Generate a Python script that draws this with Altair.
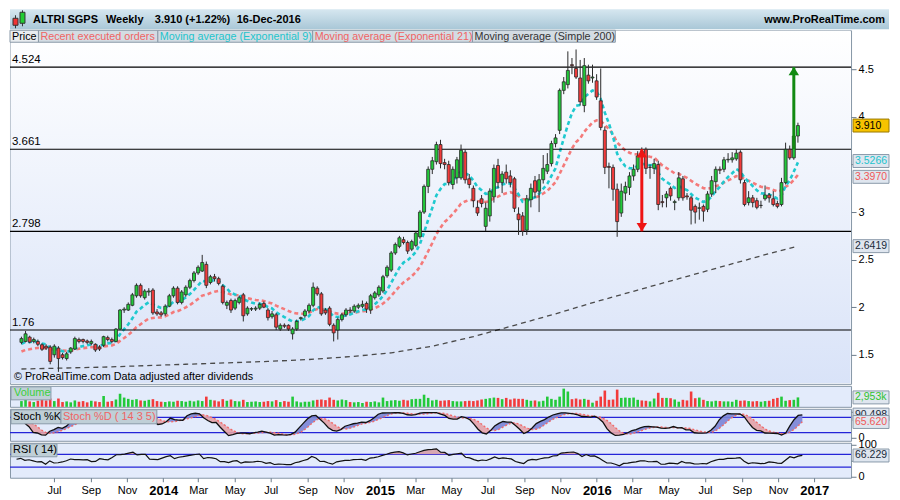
import altair as alt
import pandas as pd

FONT = "Liberation Sans"
W = 842
TAG_W = 36
TOTAL_W = W + 38
H_HEAD = 21
H_MAIN = 354
H_VOL = 21
H_STO = 32
H_RSI = 35

# ---------------- data ----------------
start_date = "2013-04-29"   # Monday of the first weekly candle

opens = [
    1.63, 1.64, 1.685, 1.64, 1.64, 1.605, 1.59, 1.58, 1.50, 1.57,
    1.50, 1.46, 1.53, 1.56, 1.66, 1.66, 1.645, 1.62, 1.61, 1.58,
    1.60, 1.68, 1.66, 1.64, 1.77, 1.97, 1.97, 2.02, 2.12, 2.23,
    2.10, 2.16, 2.18, 1.95, 1.94, 1.93, 2.01, 2.12, 2.20, 2.05,
    2.13, 2.21, 2.28, 2.36, 2.38, 2.45, 2.26, 2.32, 2.30, 2.22,
    2.02, 2.07, 1.99, 2.05, 2.13, 1.93, 1.98, 1.98, 1.99, 2.04,
    1.97, 1.90, 1.92, 1.77, 1.81, 1.81, 1.72, 1.77, 1.88, 1.91,
    1.96, 2.02, 2.20, 2.14, 1.97, 1.99, 1.81, 1.76, 1.87, 1.92,
    1.97, 1.96, 2.00, 2.01, 2.04, 1.97, 2.10, 2.13, 2.17, 2.33,
    2.39, 2.57, 2.64, 2.71, 2.68, 2.61, 2.65, 2.74, 3.00, 3.27,
    3.45, 3.53, 3.71, 3.52, 3.50, 3.29, 3.36, 3.36, 3.63, 3.35,
    3.25, 3.05, 3.14, 2.85, 2.96, 3.16, 3.49, 3.31, 3.42, 3.38,
    3.35, 2.98, 2.96, 2.81, 3.13, 3.33, 3.22, 3.34, 3.43, 3.51,
    3.72, 3.86, 4.28, 4.34, 4.55, 4.51, 4.41, 4.12, 4.44, 4.41,
    4.38, 4.17, 3.86, 3.48, 3.47, 3.24, 2.99, 3.20, 3.26, 3.38,
    3.45, 3.64, 3.66, 3.47, 3.46, 3.50, 3.11, 3.15, 3.25, 3.10,
    3.15, 3.35, 3.17, 3.15, 3.06, 3.04, 3.06, 3.03, 3.19, 3.32,
    3.45, 3.45, 3.55, 3.55, 3.56, 3.63, 3.31, 3.10, 3.15, 3.12,
    3.07, 3.14, 3.18, 3.14, 3.09, 3.08, 3.31, 3.66, 3.57, 3.80,
]
highs = [
    1.69, 1.75, 1.70, 1.68, 1.66, 1.62, 1.61, 1.60, 1.61, 1.59,
    1.52, 1.53, 1.58, 1.69, 1.68, 1.67, 1.66, 1.66, 1.62, 1.60,
    1.70, 1.70, 1.68, 1.78, 1.98, 2.00, 2.05, 2.15, 2.25, 2.25,
    2.19, 2.20, 2.20, 1.98, 1.96, 2.03, 2.14, 2.22, 2.22, 2.18,
    2.23, 2.30, 2.38, 2.44, 2.55, 2.48, 2.34, 2.35, 2.32, 2.24,
    2.07, 2.09, 2.09, 2.12, 2.15, 2.01, 2.00, 2.01, 2.05, 2.06,
    1.99, 1.96, 1.94, 1.83, 1.83, 1.82, 1.79, 1.87, 1.90, 1.98,
    2.04, 2.26, 2.22, 2.16, 1.99, 2.01, 1.83, 1.89, 1.94, 1.99,
    2.00, 2.03, 2.04, 2.07, 2.06, 2.14, 2.17, 2.23, 2.34, 2.44,
    2.59, 2.68, 2.75, 2.74, 2.70, 2.71, 2.80, 3.02, 3.29, 3.48,
    3.58, 3.74, 3.76, 3.56, 3.54, 3.48, 3.58, 3.71, 3.66, 3.40,
    3.28, 3.12, 3.18, 3.10, 3.25, 3.50, 3.56, 3.43, 3.50, 3.44,
    3.37, 3.05, 3.00, 3.18, 3.30, 3.38, 3.40, 3.60, 3.62, 3.75,
    3.82, 4.30, 4.42, 4.69, 4.62, 4.71, 4.60, 4.62, 4.55, 4.55,
    4.45, 4.51, 3.90, 3.52, 3.50, 3.30, 3.30, 3.32, 3.42, 3.50,
    3.64, 3.68, 3.68, 3.50, 3.56, 3.54, 3.18, 3.22, 3.27, 3.13,
    3.42, 3.38, 3.20, 3.17, 3.08, 3.10, 3.08, 3.22, 3.38, 3.48,
    3.48, 3.58, 3.62, 3.63, 3.66, 3.65, 3.34, 3.22, 3.18, 3.15,
    3.12, 3.28, 3.20, 3.22, 3.12, 3.36, 3.73, 3.70, 3.85, 3.94,
]
lows = [
    1.61, 1.63, 1.62, 1.62, 1.59, 1.54, 1.55, 1.40, 1.47, 1.32,
    1.45, 1.44, 1.51, 1.55, 1.62, 1.62, 1.61, 1.60, 1.53, 1.54,
    1.58, 1.64, 1.62, 1.63, 1.76, 1.94, 1.96, 2.01, 2.10, 2.10,
    2.08, 2.12, 1.92, 1.91, 1.90, 1.91, 2.00, 2.10, 2.03, 2.03,
    2.11, 2.19, 2.26, 2.34, 2.37, 2.20, 2.24, 2.27, 2.23, 2.03,
    1.98, 1.94, 1.97, 2.03, 1.85, 1.91, 1.96, 1.96, 1.97, 1.99,
    1.86, 1.88, 1.76, 1.75, 1.78, 1.75, 1.66, 1.75, 1.86, 1.89,
    1.94, 2.00, 2.12, 1.91, 1.92, 1.80, 1.64, 1.66, 1.85, 1.90,
    1.94, 1.94, 1.98, 1.99, 1.94, 1.93, 2.08, 2.11, 2.15, 2.31,
    2.37, 2.55, 2.62, 2.66, 2.56, 2.59, 2.63, 2.72, 2.98, 3.20,
    3.40, 3.50, 3.46, 3.45, 3.28, 3.24, 3.30, 3.34, 3.30, 3.25,
    3.05, 2.96, 3.05, 2.80, 2.90, 3.10, 3.25, 3.20, 3.30, 3.26,
    3.00, 2.76, 2.75, 2.76, 3.05, 3.15, 3.00, 3.30, 3.40, 3.48,
    3.68, 3.82, 4.24, 4.30, 4.45, 4.40, 4.12, 4.05, 4.35, 4.36,
    4.18, 3.86, 3.40, 3.25, 3.12, 2.74, 2.95, 3.12, 3.18, 3.33,
    3.42, 3.55, 3.40, 3.35, 3.40, 3.02, 3.05, 3.05, 3.12, 3.02,
    3.12, 3.12, 3.13, 2.87, 2.88, 2.92, 2.90, 3.00, 3.16, 3.20,
    3.40, 3.42, 3.52, 3.52, 3.54, 3.30, 3.06, 3.07, 3.05, 3.03,
    3.04, 3.12, 3.10, 3.06, 3.04, 3.06, 3.29, 3.55, 3.55, 3.73,
]
closes = [
    1.67, 1.72, 1.633, 1.66, 1.61, 1.558, 1.57, 1.43, 1.59, 1.46,
    1.47, 1.51, 1.57, 1.67, 1.64, 1.64, 1.63, 1.64, 1.55, 1.56,
    1.69, 1.66, 1.64, 1.77, 1.97, 1.98, 2.03, 2.13, 2.23, 2.12,
    2.17, 2.17, 1.94, 1.93, 1.92, 2.01, 2.12, 2.20, 2.05, 2.16,
    2.21, 2.28, 2.36, 2.42, 2.47, 2.23, 2.32, 2.30, 2.25, 2.05,
    2.05, 1.97, 2.07, 2.10, 1.91, 1.99, 1.985, 1.99, 2.03, 2.00,
    1.89, 1.93, 1.79, 1.81, 1.80, 1.77, 1.77, 1.85, 1.89, 1.96,
    2.02, 2.21, 2.14, 1.93, 1.94, 1.82, 1.73, 1.87, 1.92, 1.97,
    1.96, 2.01, 2.02, 2.03, 1.98, 2.12, 2.15, 2.21, 2.32, 2.42,
    2.57, 2.66, 2.73, 2.68, 2.59, 2.69, 2.78, 3.00, 3.27, 3.45,
    3.54, 3.71, 3.51, 3.50, 3.31, 3.45, 3.55, 3.65, 3.34, 3.29,
    3.12, 2.99, 3.09, 3.04, 3.22, 3.46, 3.31, 3.40, 3.35, 3.31,
    3.04, 2.92, 2.80, 3.14, 3.25, 3.21, 3.34, 3.46, 3.50, 3.72,
    3.78, 4.28, 4.37, 4.49, 4.54, 4.42, 4.16, 4.54, 4.38, 4.42,
    4.21, 3.89, 3.47, 3.47, 3.24, 2.90, 3.22, 3.27, 3.38, 3.45,
    3.59, 3.60, 3.46, 3.47, 3.51, 3.08, 3.10, 3.19, 3.17, 3.11,
    3.36, 3.15, 3.16, 3.02, 3.00, 3.045, 3.01, 3.19, 3.33, 3.45,
    3.44, 3.55, 3.555, 3.57, 3.62, 3.34, 3.08, 3.15, 3.10, 3.05,
    3.07, 3.18, 3.15, 3.08, 3.06, 3.31, 3.66, 3.57, 3.80, 3.91,
]
volumes_k = [
    1800, 2100, 1700, 1500, 1900, 2200, 2000, 2600, 1800, 2600,
    1500, 1700, 1400, 2000, 1600, 1800, 1400, 1900, 1700, 1500,
    3400, 1600, 1800, 2300, 4100, 2900, 2500, 2200, 2400, 2000,
    1900, 2200, 2400, 1800, 1600, 1500, 1700, 1600, 1900, 1800,
    1600, 1900, 1700, 2000, 1800, 3200, 2200, 2000, 1700, 2400,
    1900, 2300, 1800, 1700, 2200, 1500, 1600, 1700, 1500, 1600,
    1800, 1700, 2100, 1500, 1800, 1600, 3200, 1700, 1400, 1600,
    1600, 2000, 2200, 2300, 2100, 2900, 2200, 2000, 2300, 2100,
    1500, 1400, 1500, 1200, 1600, 1500, 1700, 1400, 2900, 1800,
    2000, 2100, 1900, 2200, 2000, 2400, 2500, 2500, 3800, 2800,
    2000, 2200, 1900, 2000, 2100, 1800, 1700, 1700, 1800, 1900,
    1800, 2000, 2300, 2500, 2700, 2900, 2800, 2400, 2800, 2300,
    2600, 2500, 2500, 2200, 1900, 2000, 1700, 1900, 3200, 2500,
    2200, 3200, 5700, 4800, 2400, 2600, 2300, 2500, 2200, 1300,
    1900, 3200, 5100, 2200, 2300, 5400, 2800, 2900, 2800, 2900,
    2200, 2000, 1900, 1700, 2600, 4400, 2800, 2800, 2700, 2300,
    1600, 2200, 2000, 4800, 2700, 2900, 2200, 1800, 1700, 1900,
    1800, 1700, 1700, 1600, 2200, 1900, 2000, 1800, 1700, 1800,
    1600, 1800, 1900, 2500, 2800, 3200, 1900, 2100, 2200, 2953,
]
# simple 200-week average, read at selected weeks
sma_weeks = [0, 20, 40, 60, 70, 80, 90, 100, 110, 120, 130, 140, 150, 160, 170, 180, 189]
sma_values = [1.35, 1.37, 1.40, 1.43, 1.45, 1.48, 1.52, 1.59, 1.69, 1.81, 1.93, 2.06, 2.18, 2.30, 2.42, 2.54, 2.6419]
ema9_seed, ema21_seed = 1.60, 1.52
rsi_seed_gain, rsi_seed_loss = 0.03, 0.025

levels = [4.524, 3.661, 2.798, 1.76]
level_labels = ["4.524", "3.661", "2.798", "1.76"]

arrow_weeks = [151, 188]
arrow_from = [3.661, 3.661]
arrow_to = [2.798, 4.524]
arrow_colors = ["#ee1414", "#128a12"]

price_tags = [3.910, 3.5266, 3.3970, 2.6419]
price_tag_text = ["3.910", "3.5266", "3.3970", "2.6419"]
price_tag_fg = ["#000000", "#1cc3cc", "#f05858", "#1a2a3a"]
price_tag_bg = ["#f7c300", "#dfe6ef", "#dfe6ef", "#dfe6ef"]
price_tag_bd = ["#9a7800", "#8a9aaa", "#8a9aaa", "#8a9aaa"]
price_tag_shift = [0, -1, 2.5, 0]

vol_tag = [2953]
vol_tag_text = ["2,953k"]
sto_tags = [90.498, 65.620]
sto_tag_text = ["90.498", "65.620"]
sto_tag_fg = ["#1a2a3a", "#f05858"]
rsi_tags = [66.229]
rsi_tag_text = ["66.229"]

legend_items = ["Price", "Recent executed orders", "Moving average (Exponential 9)",
                "Moving average (Exponential 21)", "Moving average (Simple 200)"]
legend_colors = ["#000000", "#f06464", "#1ec4cc", "#f06464", "#333333"]
legend_edges = [0, 28.5, 148, 303, 463, 606]

header_texts = ["ALTRI SGPS", "Weekly", "3.910 (+1.22%)", "16-Dec-2016"]
header_x = [23, 96, 145, 227]

# ---------------- derived table ----------------
n = len(closes)
dates = pd.date_range(start_date, periods=n, freq="7D")
df = pd.DataFrame({"date": dates, "open": opens, "high": highs, "low": lows,
                   "close": closes, "volume": volumes_k})
df["dir"] = ["up" if c >= o else "down" for o, c in zip(opens, closes)]


def ema(vals, span, seed):
    a = 2.0 / (span + 1)
    e = seed
    out = []
    for v in vals:
        e = e + a * (v - e)
        out.append(e)
    return out


df["ema9"] = ema(closes, 9, ema9_seed)
df["ema21"] = ema(closes, 21, ema21_seed)

hh = df["high"].rolling(14, min_periods=1).max()
ll = df["low"].rolling(14, min_periods=1).min()
raw = 100 * (df["close"] - ll) / (hh - ll)
df["k"] = raw.rolling(3, min_periods=1).mean()
df["d"] = df["k"].rolling(5, min_periods=1).mean()
df["kdmax"] = df[["k", "d"]].max(axis=1)

ag, al = rsi_seed_gain, rsi_seed_loss
rsi = []
for i, c in enumerate(closes):
    if i > 0:
        ch = c - closes[i - 1]
        ag = (ag * 13 + max(ch, 0)) / 14
        al = (al * 13 + max(-ch, 0)) / 14
    rsi.append(100 - 100 / (1 + ag / al))
df["rsi"] = rsi
df["r70"] = 70.0
df["rmax"] = df["rsi"].clip(lower=70)

sma = pd.DataFrame({"date": dates[sma_weeks], "v": sma_values})
lev = pd.DataFrame({"v": levels, "t": level_labels})
arr = pd.DataFrame({"date": dates[arrow_weeks], "y0": arrow_from, "y1": arrow_to, "c": arrow_colors})
heads_up = pd.DataFrame({"date": [dates[151], dates[188]], "v": [3.661, 4.524], "c": arrow_colors})
heads_dn = pd.DataFrame({"date": [dates[151]], "v": [2.798], "c": [arrow_colors[0]]})

ONE = alt.Data(values=[{"u": 0}])
TAG_PATH = "M-1,-0.36H1V0.36H-1Z"
UP_PATH = "M0,-0.8L1,0.8L-1,0.8Z"
DN_PATH = "M0,0.8L1,-0.8L-1,-0.8Z"
BORDER = "#8797a7"

xscale = alt.Scale(domain=[alt.DateTime(year=2013, month=4, date=18),
                           alt.DateTime(year=2017, month=3, date=4)])
X = alt.X("date:T", scale=xscale, axis=None)


def vbox(x0, x1, y0, y1, fill, stroke="#8a9aa8"):
    return alt.Chart(ONE).mark_rect(fill=fill, stroke=stroke, strokeWidth=1).encode(
        x=alt.value(x0), x2=alt.value(x1), y=alt.value(y0), y2=alt.value(y1))


def vtext(x, y, text, color="#000000", size=11, weight="normal", align="left"):
    return alt.Chart(ONE).mark_text(text=text, color=color, fontSize=size, fontWeight=weight,
                                    align=align, baseline="middle", font=FONT).encode(
        x=alt.value(x), y=alt.value(y))


def tags(values, texts, fg, bg, bd, Yfn, shifts=None):
    if shifts is None:
        shifts = [0] * len(values)
    out = []
    for v, tx, f, b, s, sh in zip(values, texts, fg, bg, bd, shifts):
        t = pd.DataFrame({"v": [v], "label": [tx]})
        out.append(alt.Chart(t).mark_point(shape=TAG_PATH, size=TAG_W * TAG_W, filled=True,
                                           opacity=1, strokeWidth=1, fill=b, stroke=s,
                                           yOffset=sh).encode(
            x=alt.value(W + 2 + TAG_W / 2), y=Yfn("v")))
        out.append(alt.Chart(t).mark_text(align="left", baseline="middle", fontSize=10.5,
                                          font=FONT, color=f, dy=sh).encode(
            x=alt.value(W + 4), y=Yfn("v"), text="label:N"))
    return out


# ---------------- header ----------------
head_grad = alt.Gradient(gradient="linear",
                         stops=[alt.GradientStop(color="#d6e7f0", offset=0),
                                alt.GradientStop(color="#a9c7d7", offset=1)],
                         x1=0, x2=0, y1=0, y2=1)
head_layers = [
    alt.Chart(ONE).mark_rect(fill=head_grad).encode(
        x=alt.value(0), x2=alt.value(TOTAL_W), y=alt.value(0), y2=alt.value(H_HEAD - 1)),
    alt.Chart(ONE).mark_rule(color="#333333").encode(x=alt.value(5.5), y=alt.value(6), y2=alt.value(19)),
    vbox(3, 8, 9, 16, "#f03434", "#333333"),
    alt.Chart(ONE).mark_rule(color="#333333").encode(x=alt.value(12.5), y=alt.value(1), y2=alt.value(17)),
    vbox(10, 15, 3, 14, "#22cc33", "#333333"),
    vtext(TOTAL_W - 4, 10.5, "www.ProRealTime.com", size=11, weight="bold", align="right"),
]
for hx, ht in zip(header_x, header_texts):
    head_layers.append(vtext(hx, 10.5, ht, size=11, weight="bold"))
header = alt.layer(*head_layers).properties(
    width=TOTAL_W, height=H_HEAD, view=alt.ViewBackground(stroke="transparent"))

# ---------------- main price panel ----------------
yscale = alt.Scale(domain=[1.194, 4.912], nice=False, zero=False)
yaxis = alt.Axis(orient="right", values=[1.5, 2, 2.5, 3, 3.5, 4, 4.5], format="~g", title="",
                 labelExpr="datum.value == 3.5 ? '' : datum.label",
                 grid=False, domain=False, tickColor="#6a7a8a", tickSize=5, labelFontSize=11,
                 labelColor="#000000", labelFont=FONT, labelPadding=2)


def Y(field):
    return alt.Y(field, type="quantitative", scale=yscale, axis=yaxis)


main_grad = alt.Gradient(gradient="linear",
                         stops=[alt.GradientStop(color="#ffffff", offset=0),
                                alt.GradientStop(color="#d9e3f8", offset=1)],
                         x1=0, x2=0, y1=0, y2=1)
base = alt.Chart(df)
color_dir = alt.Scale(domain=["up", "down"], range=["#22c93a", "#f23b3b"])

main_layers = [
    alt.Chart(ONE).mark_rect(fill=main_grad).encode(
        x=alt.value(0.5), x2=alt.value(W - 0.5), y=alt.value(0.5), y2=alt.value(H_MAIN - 0.5)),
    alt.Chart(sma).mark_line(color="#4a4a4a", strokeWidth=1.3, strokeDash=[5, 4]).encode(x=X, y=Y("v")),
    base.mark_line(color="#f47a7a", strokeWidth=2.6, strokeDash=[4, 3]).encode(x=X, y=Y("ema21")),
    base.mark_line(color="#1fc9cf", strokeWidth=2.6, strokeDash=[4, 3]).encode(x=X, y=Y("ema9")),
    alt.Chart(lev).mark_rule(color="#000000", strokeWidth=1.2).encode(y=Y("v")),
    alt.Chart(lev).mark_text(align="left", baseline="middle", dy=-7, fontSize=11.5, font=FONT,
                             color="#000000").encode(x=alt.value(2), y=Y("v"), text="t:N"),
    base.mark_rule(color="#2a2a2a", strokeWidth=1).encode(x=X, y=Y("low"), y2="high"),
    base.mark_bar(size=3, stroke="#2a2a2a", strokeWidth=0.8).encode(
        x=X, y=Y("open"), y2="close", fill=alt.Fill("dir:N", scale=color_dir, legend=None)),
    alt.Chart(arr).mark_rule(strokeWidth=3).encode(
        x=X, y=Y("y0"), y2="y1", color=alt.Color("c:N", scale=None)),
    alt.Chart(heads_up).mark_point(shape=UP_PATH, size=110, filled=True, opacity=1, yOffset=4).encode(
        x=X, y=Y("v"), fill=alt.Fill("c:N", scale=None)),
    alt.Chart(heads_dn).mark_point(shape=DN_PATH, size=110, filled=True, opacity=1, yOffset=-4).encode(
        x=X, y=Y("v"), fill=alt.Fill("c:N", scale=None)),
]
for i, (item, col) in enumerate(zip(legend_items, legend_colors)):
    fill = "#e9edf0" if i == 0 else "#d3dce3"
    main_layers.append(vbox(legend_edges[i], legend_edges[i + 1], 0, 12, fill))
    main_layers.append(vtext(legend_edges[i] + 2, 6.5, item, color=col, size=10.8))
main_layers.append(vtext(4, H_MAIN - 7, "\u00a9 ProRealTime.com  Data adjusted after dividends", size=10.8))
main_layers += tags(price_tags, price_tag_text, price_tag_fg, price_tag_bg, price_tag_bd, Y,
                    price_tag_shift)

main = alt.layer(*main_layers).properties(
    width=W, height=H_MAIN, view=alt.ViewBackground(fill="#ffffff", stroke=BORDER))

# ---------------- volume panel ----------------
vscale = alt.Scale(domain=[0, 6573], nice=False, zero=True)


def YV(field):
    return alt.Y(field, type="quantitative", scale=vscale, axis=None)


vol_layers = [
    base.mark_bar(size=2.6).encode(x=X, y=YV("volume"),
                                   color=alt.Color("dir:N", scale=color_dir, legend=None)),
    vbox(1, 41, 1, 14, "#bfcfd7"),
    vtext(4, 7.5, "Volume", color="#3ccf3c", size=11),
] + tags(vol_tag, vol_tag_text, ["#2fc22f"], ["#dfe6ef"], ["#8a9aaa"], YV)
vol = alt.layer(*vol_layers).properties(
    width=W, height=H_VOL, view=alt.ViewBackground(fill="#e3ebfb", stroke=BORDER))

# ---------------- stochastic panel ----------------
sscale = alt.Scale(domain=[-11.4, 112.9], nice=False, zero=False)
saxis = alt.Axis(orient="right", values=[0, 100], title="", grid=False, domain=False,
                 labelExpr="datum.value == 100 ? '' : datum.label",
                 tickColor="#6a7a8a", tickSize=5, labelFontSize=11, labelColor="#000000",
                 labelPadding=2)


def YS(field):
    return alt.Y(field, type="quantitative", scale=sscale, axis=saxis)


sto_lines = pd.DataFrame({"v": [80, 20]})
sto_layers = [
    alt.Chart(sto_lines).mark_rule(color="#2424d8", strokeWidth=1.2).encode(y=YS("v")),
    base.mark_area(color="#7a84d6", opacity=0.9).encode(x=X, y=YS("d"), y2="kdmax"),
    base.mark_area(color="#e3a2a8", opacity=0.9).encode(x=X, y=YS("k"), y2="kdmax"),
    base.mark_line(color="#f06a6a", strokeWidth=1.4, strokeDash=[2, 2]).encode(x=X, y=YS("d")),
    base.mark_line(color="#111111", strokeWidth=1.3).encode(x=X, y=YS("k")),
    vbox(1, 51, 1, 15, "#bfcfd7"),
    vtext(3, 8, "Stoch %K", size=11),
    vbox(51, 147, 1, 15, "#bfcfd7"),
    vtext(53, 8, "Stoch %D ( 14 3 5)", color="#f06464", size=11),
] + tags(sto_tags, sto_tag_text, sto_tag_fg, ["#dfe6ef", "#dfe6ef"], ["#8a9aaa", "#8a9aaa"], YS,
         [0, 1])
sto = alt.layer(*sto_layers).properties(
    width=W, height=H_STO, view=alt.ViewBackground(fill="#e3ebfb", stroke=BORDER))

# ---------------- RSI panel ----------------
rscale = alt.Scale(domain=[-2.9, 105.7], nice=False, zero=False)
raxis = alt.Axis(orient="right", values=[0, 50, 100], title="", grid=False, domain=False,
                 labelExpr="datum.value == 50 ? '' : datum.label",
                 tickColor="#6a7a8a", tickSize=5, labelFontSize=11, labelColor="#000000",
                 labelPadding=2)


def YR(field):
    return alt.Y(field, type="quantitative", scale=rscale, axis=raxis)


tick_dates = [alt.DateTime(year=y, month=m, date=1) for (y, m) in
              [(2013, 7), (2013, 9), (2013, 11), (2014, 1), (2014, 3), (2014, 5), (2014, 7),
               (2014, 9), (2014, 11), (2015, 1), (2015, 3), (2015, 5), (2015, 7), (2015, 9),
               (2015, 11), (2016, 1), (2016, 3), (2016, 5), (2016, 7), (2016, 9), (2016, 11),
               (2017, 1)]]
xaxis = alt.Axis(values=tick_dates,
                 labelExpr="month(datum.value) == 0 ? timeFormat(datum.value, '%Y') : timeFormat(datum.value, '%b')",
                 labelFontWeight={"condition": {"test": "month(datum.value) == 0", "value": "bold"}, "value": "normal"},
                 labelFontSize={"condition": {"test": "month(datum.value) == 0", "value": 13}, "value": 11},
                 labelColor="#000000", labelFlush=False, labelOverlap=False, tickSize=4,
                 tickColor="#6a7a8a", domain=False, grid=False, title="", labelPadding=3)
XR = alt.X("date:T", scale=xscale, axis=xaxis)

rsi_lines = pd.DataFrame({"v": [70, 30]})
rsi_layers = [
    alt.Chart(rsi_lines).mark_rule(color="#2424d8", strokeWidth=1.2).encode(y=YR("v")),
    base.mark_area(color="#d6a0a8", opacity=0.9).encode(x=XR, y=YR("r70"), y2="rmax"),
    base.mark_line(color="#111111", strokeWidth=1.2).encode(x=XR, y=YR("rsi")),
    vbox(1, 47, 1, 14, "#bfcfd7"),
    vtext(3, 7.5, "RSI ( 14)", size=11),
] + tags(rsi_tags, rsi_tag_text, ["#1a2a3a"], ["#dfe6ef"], ["#8a9aaa"], YR)
rsi_chart = alt.layer(*rsi_layers).properties(
    width=W, height=H_RSI, view=alt.ViewBackground(fill="#e3ebfb", stroke=BORDER))

inner = alt.vconcat(main, vol, sto, rsi_chart, spacing=2, bounds="flush")
chart = alt.vconcat(header, inner, spacing=0, bounds="flush").properties(
    padding=0, background="#ffffff"
).configure(font=FONT).configure_view(stroke=BORDER, strokeWidth=1)

chart.save("out.html", embed_options={"renderer": "svg", "actions": False})
